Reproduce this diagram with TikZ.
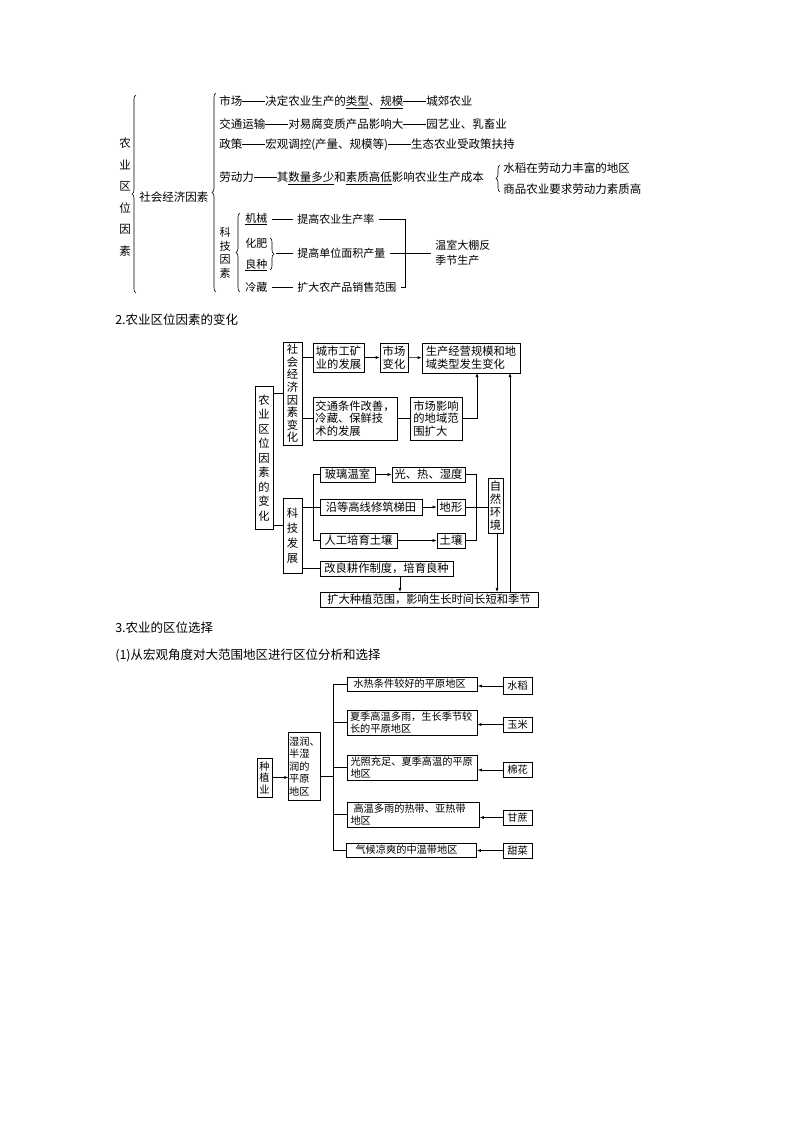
\documentclass[tikz,border=0pt]{standalone}
\usepackage{fontspec}
\setmainfont{Noto Sans CJK SC}
\usetikzlibrary{decorations.pathreplacing,arrows.meta}
\newcommand{\bx}[6]{\node[bx,minimum width={#4-#2},minimum height={#5-#3}] (#1) at ({(#2+#4)/2},{(#3+#5)/2}) {#6};}
\newcommand{\dd}{\rule[0.35em]{2em}{0.4pt}}
\begin{document}
\begin{tikzpicture}[x=1pt,y=-1pt,line width=0.6pt,
  t/.style={inner sep=0pt,anchor=west,font=\fontsize{11.5}{13}\selectfont},
  bx/.style={draw,inner sep=0.5pt,align=left,font=\fontsize{11.3}{12.8}\selectfont},
  sb/.style={draw,inner sep=0.5pt,align=left,font=\fontsize{10.2}{11.5}\selectfont},
  lb/.style={sb,inner xsep=3pt,text width=124pt},
  br/.style={decorate,decoration={brace,amplitude=4pt}},
  ar/.style={-{Latex[length=4pt,width=3pt]}}]
\useasboundingbox (0,0) rectangle (794,1123);
% ---------- section 1
\node[t,anchor=center,align=center,font=\fontsize{11.5}{21.5}\selectfont] (v1) at (125,197) {农\\业\\区\\位\\因\\素};
\draw[br] (136,293) -- (136,95);
\node[t] (shj) at (139,197) {社会经济因素};
\draw[br] (216,292) -- (216,93);
\node[t] (r1) at (219,102) {市场\dd 决定农业生产的\underline{类型}、\underline{规模}\dd 城郊农业};
\node[t] (r2) at (219,124) {交通运输\dd 对易腐变质产品影响大\dd 园艺业、乳畜业};
\node[t] (r3) at (219,145) {政策\dd 宏观调控(产量、规模等)\dd 生态农业受政策扶持};
\node[t] (r4) at (219,178) {劳动力\dd 其\underline{数量多少}和\underline{素质高低}影响农业生产成本};
\draw[br] (500,192) -- (500,165);
\node[t] (r4a) at (503,168) {水稻在劳动力丰富的地区};
\node[t] (r4b) at (503,189) {商品农业要求劳动力素质高};
\node[t,anchor=center,align=center,font=\fontsize{11}{13.5}\selectfont] (kj) at (225,253) {科\\技\\因\\素};
\draw[br] (240,292) -- (240,213);
\node[t,font=\fontsize{11}{13}\selectfont] (jx) at (245,219) {\underline{机械}};
\node[t,font=\fontsize{11}{13}\selectfont] (hf) at (245,243) {化肥};
\node[t,font=\fontsize{11}{13}\selectfont] (lz) at (245,265) {\underline{良种}};
\node[t,font=\fontsize{11}{13}\selectfont] (lc) at (245,287) {冷藏};
\draw[br] (270,238) -- (270,270);
\node[t,font=\fontsize{11}{13}\selectfont] (s1) at (297,219) {提高农业生产率};
\node[t,font=\fontsize{11}{13}\selectfont] (s2) at (297,253) {提高单位面积产量};
\node[t,font=\fontsize{11}{13}\selectfont] (s3) at (297,287) {扩大农产品销售范围};
\node[t,align=left,font=\fontsize{11}{15}\selectfont] (ws) at (435,253) {温室大棚反\\季节生产};
\coordinate (hb) at (276,253);
\draw (jx.east)+(4,0) -- ([xshift=-4pt]s1.west);
\draw (hb) -- ([xshift=-4pt]s2.west);
\draw (lc.east)+(4,0) -- ([xshift=-4pt]s3.west);
\draw (s1.east)+(4,0) -- (405,219) -- (405,287) -- ([xshift=4pt]s3.east);
\draw (s2.east)+(4,0) -- ([xshift=-4pt]ws.west);
% ---------- section 2
\node[t,font=\fontsize{12.5}{14}\selectfont] (h2) at (115,320) {2.农业区位因素的变化};
\node[bx,align=center,minimum width=18pt,minimum height=143pt,font=\fontsize{11.3}{14.5}\selectfont] (nz) at (264,458) {农\\业\\区\\位\\因\\素\\的\\变\\化};
\node[bx,align=center,minimum width=19pt,minimum height=103pt,font=\fontsize{11.3}{12.6}\selectfont] (sh) at (292.5,393.5) {社\\会\\经\\济\\因\\素\\变\\化};
\node[bx,align=center,minimum width=19pt,minimum height=75pt,font=\fontsize{11.3}{15}\selectfont] (kf) at (292.5,535.5) {科\\技\\发\\展};
\bx{cs}{313}{343}{364}{372}{城市工矿\\业的发展}
\bx{sc}{380}{343}{408}{372}{市场\\变化}
\bx{sx}{422}{343}{520}{373}{生产经营规模和地\\域类型发生变化}
\bx{jt}{313}{397}{397}{440}{交通条件改善，\\冷藏、保鲜技\\术的发展}
\bx{yx}{410}{397}{462}{440}{市场影响\\的地域范\\围扩大}
\bx{bl}{320}{467}{375}{482}{玻璃温室}
\bx{gr}{392}{467}{465}{482}{光、热、湿度}
\bx{td}{320}{499}{422}{515}{沿等高线修筑梯田}
\bx{dx}{437}{499}{465}{515}{地形}
\bx{rg}{320}{533}{397}{548}{人工培育土壤}
\bx{tr}{437}{533}{465}{548}{土壤}
\node[bx,align=center,minimum width=15pt,minimum height=55pt,font=\fontsize{11.3}{13}\selectfont] (zr) at (495.5,505.5) {自\\然\\环\\境};
\bx{gl}{320}{561}{453}{576}{改良耕作制度，培育良种}
\bx{kd}{320}{592}{538}{607}{扩大种植范围，影响生长时间长短和季节}
\draw (nz.east |- 0,393) -- (sh.west |- 0,393);
\draw (nz.east |- 0,525) -- (kf.west |- 0,525);
\draw (sh.east |- cs) -- (cs.west);
\draw (sh.east |- jt) -- (jt.west);
\draw[ar] (cs) -- (sc);
\draw[ar] (sc) -- (sx);
\draw (jt) -- (yx);
\draw[ar] (yx.east) -- (477,418.5) -- (477,373);
\draw (kf.east |- td) -- (313,507);
\draw (bl.west) -- (313,474.5) -- (313,540.5) -- (rg.west);
\draw (313,507) -- (td.west);
\draw[ar] (bl) -- (gr);
\draw[ar] (td) -- (dx);
\draw[ar] (rg) -- (tr);
\draw (gr.east) -- (476,474.5) -- (476,540.5) -- (tr.east);
\draw (dx.east) -- (zr.west |- dx);
\draw (kf.east |- gl) -- (gl.west);
\draw[ar] (400,576) -- (400,592);
\draw[ar] (497,533) -- (497,592);
\draw[ar] (510,592) -- (510,373);
% ---------- section 3
\node[t,font=\fontsize{12.5}{14}\selectfont] (h3) at (115,628) {3.农业的区位选择};
\node[t,font=\fontsize{12.5}{14}\selectfont] (h31) at (115,655) {(1)从宏观角度对大范围地区进行区位分析和选择};
\node[sb,align=center,minimum width=15pt,minimum height=39pt] (zz) at (264.5,777.5) {种\\植\\业};
\node[sb,minimum width=31pt,minimum height=68pt,font=\fontsize{10.2}{12.5}\selectfont] (sr) at (304.5,766) {湿润、\\半湿\\润的\\平原\\地区};
\draw[ar] (zz.east) -- (sr.west |- zz.east);
\node[lb,minimum height=14pt] (b1) at (412.5,684) {\hspace*{3pt}水热条件较好的平原地区};
\node[lb,minimum height=25pt] (b2) at (412,722.5) {夏季高温多雨，生长季节较\\长的平原地区};
\node[lb,minimum height=25pt] (b3) at (412.5,767.5) {光照充足、夏季高温的平原\\地区};
\node[lb,minimum height=25pt,text width=126pt] (b4) at (413.5,814.5) {\hspace*{3pt}高温多雨的热带、亚热带\\地区};
\node[lb,minimum height=14pt] (b5) at (411.5,850) {\hspace*{6pt}气候凉爽的中温带地区};
\node[sb,minimum width=29pt,minimum height=17pt] (c1) at (517.5,686) {水稻};
\node[sb,minimum width=29pt,minimum height=15pt] (c2) at (517.5,724.5) {玉米};
\node[sb,minimum width=29pt,minimum height=15pt] (c3) at (517.5,770) {棉花};
\node[sb,minimum width=29pt,minimum height=15pt] (c4) at (517.5,817.5) {甘蔗};
\node[sb,minimum width=29pt,minimum height=15pt] (c5) at (517.5,850.5) {甜菜};
\draw (sr.east |- 0,776) -- (333,776);
\draw (333,684) -- (333,850);
\foreach \b in {b1,b2,b3,b4,b5} {\draw (333,0 |- \b.west) -- (\b.west);}
\foreach \c/\b in {c1/b1,c2/b2,c3/b3,c4/b4,c5/b5} {\draw[ar] (\c.west) -- (\b.east |- \c.west);}
\end{tikzpicture}
\end{document}
